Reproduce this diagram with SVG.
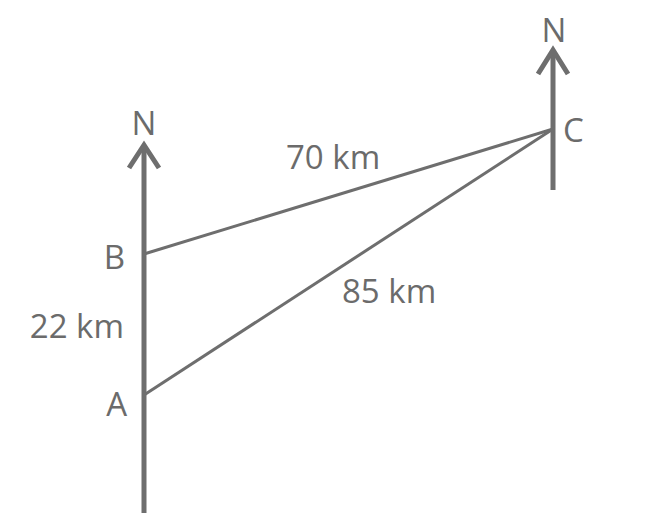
<svg xmlns="http://www.w3.org/2000/svg" width="650" height="530" viewBox="0 0 650 530">
<style>
text{font-family:"Open Sans","Liberation Sans",sans-serif;font-size:33px;fill:#6b6b6b}
.axis{stroke:#6e6e6e;stroke-width:5;fill:none}
.head{stroke:#6e6e6e;stroke-width:5;fill:none;stroke-linejoin:miter;stroke-linecap:butt}
.edge{stroke:#6e6e6e;stroke-width:3;fill:none}
</style>
<rect width="650" height="530" fill="#ffffff"/>
<g id="connectors">
<line class="edge" x1="144" y1="254" x2="553" y2="129"/>
<line class="edge" x1="144" y1="395" x2="553" y2="129"/>
</g>
<g id="north-left">
<line class="axis" x1="144" y1="146" x2="144" y2="513"/>
<polyline class="head" points="129,168 144,145 159,168"/>
<text x="144" y="135" text-anchor="middle">N</text>
</g>
<g id="north-right">
<line class="axis" x1="553" y1="50" x2="553" y2="190"/>
<polyline class="head" points="538,74 553,50 568,74"/>
<text x="554" y="42" text-anchor="middle">N</text>
</g>
<g id="node-A"><text x="127" y="416" text-anchor="end">A</text></g>
<g id="node-B"><text x="125" y="269" text-anchor="end">B</text></g>
<g id="node-C"><text x="563" y="142">C</text></g>
<g id="labels">
<text x="124" y="338" text-anchor="end">22 km</text>
<text x="286" y="169">70 km</text>
<text x="342" y="303">85 km</text>
</g>
</svg>
